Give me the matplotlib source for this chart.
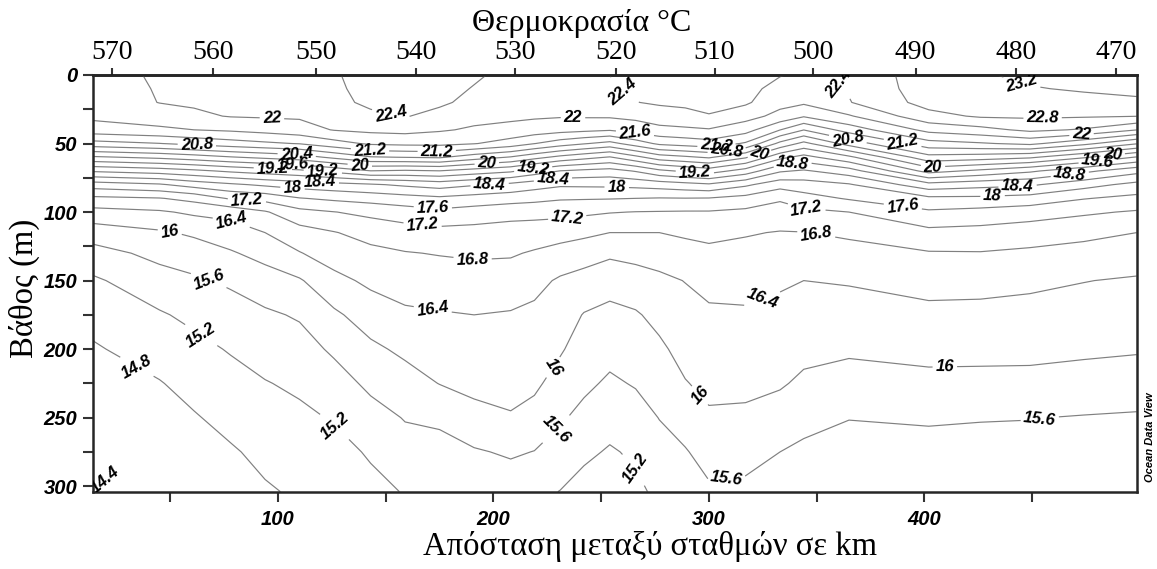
import matplotlib
matplotlib.use('Agg')
import matplotlib.pyplot as plt
import numpy as np

# section grid: distance along the transect (km) and depth (m)
dist_km = [14, 45, 61, 78, 94, 110, 126, 143, 159, 175, 191, 208, 219, 231, 242,
           254, 266, 277, 289, 300, 317, 333, 344, 365, 402, 426, 449, 474, 498.5]
depth_m = [0, 10, 20, 30, 40, 50, 60, 70, 80, 90, 100, 115, 130, 150, 175, 200, 225, 250, 275, 304]

t_014 = [21.85, 21.80, 21.75, 21.68, 21.43, 20.65, 19.54, 18.45, 17.40, 16.71, 16.26, 15.79, 15.45, 15.14, 14.92, 14.76, 14.65, 14.54, 14.44, 14.35]
t_045 = [22.05, 22.03, 22.01, 21.80, 21.53, 20.79, 19.69, 18.59, 17.55, 16.78, 16.35, 15.95, 15.71, 15.44, 15.16, 14.96, 14.78, 14.69, 14.59, 14.48]
t_061 = [22.10, 22.08, 22.05, 21.93, 21.60, 20.91, 19.81, 18.71, 17.77, 16.92, 16.47, 16.06, 15.81, 15.54, 15.29, 15.09, 14.92, 14.77, 14.70, 14.58]
t_078 = [22.15, 22.12, 22.08, 22.02, 21.66, 21.03, 19.97, 18.87, 17.93, 17.25, 16.53, 16.21, 15.96, 15.66, 15.43, 15.23, 15.06, 14.91, 14.76, 14.70]
t_094 = [22.22, 22.20, 22.16, 22.04, 21.74, 21.13, 20.09, 18.99, 18.07, 17.34, 16.76, 16.40, 16.13, 15.82, 15.54, 15.36, 15.18, 15.03, 14.89, 14.76]
t_110 = [22.20, 22.18, 22.14, 22.05, 21.84, 21.22, 20.21, 19.11, 18.18, 17.58, 17.08, 16.64, 16.38, 15.96, 15.64, 15.45, 15.27, 15.12, 15.00, 14.85]
t_126 = [22.35, 22.32, 22.27, 22.14, 22.02, 21.45, 20.49, 19.32, 18.26, 17.68, 17.19, 16.78, 16.58, 16.29, 15.93, 15.66, 15.44, 15.23, 15.08, 14.95]
t_143 = [22.60, 22.55, 22.50, 22.30, 22.09, 21.66, 20.77, 19.59, 18.35, 17.76, 17.30, 16.94, 16.70, 16.48, 16.19, 15.92, 15.68, 15.46, 15.24, 15.10]
t_159 = [22.60, 22.56, 22.50, 22.42, 22.12, 21.70, 20.81, 19.54, 18.47, 17.84, 17.41, 17.02, 16.78, 16.58, 16.33, 16.08, 15.84, 15.62, 15.46, 15.22]
t_175 = [22.55, 22.52, 22.46, 22.29, 22.04, 21.71, 20.85, 19.59, 18.58, 17.92, 17.50, 17.07, 16.82, 16.61, 16.37, 16.19, 16.01, 15.68, 15.45, 15.28]
t_191 = [22.45, 22.38, 22.30, 22.12, 21.95, 21.62, 20.59, 19.43, 18.44, 17.84, 17.42, 17.06, 16.85, 16.64, 16.40, 16.25, 16.10, 15.88, 15.56, 15.35]
t_208 = [22.30, 22.28, 22.24, 22.08, 21.88, 21.43, 20.37, 19.27, 18.30, 17.77, 17.33, 17.04, 16.84, 16.61, 16.37, 16.24, 16.12, 15.97, 15.65, 15.37]
t_219 = [22.30, 22.28, 22.23, 22.05, 21.82, 21.21, 20.13, 19.03, 18.17, 17.71, 17.33, 17.00, 16.76, 16.51, 16.32, 16.19, 16.07, 15.87, 15.59, 15.30]
t_231 = [22.30, 22.28, 22.22, 22.03, 21.75, 20.99, 19.89, 18.79, 18.06, 17.64, 17.31, 16.96, 16.65, 16.35, 16.19, 16.04, 15.85, 15.65, 15.44, 15.19]
t_242 = [22.35, 22.32, 22.26, 22.04, 21.70, 20.83, 19.73, 18.71, 18.07, 17.63, 17.27, 16.89, 16.57, 16.26, 15.98, 15.83, 15.68, 15.49, 15.28, 15.05]
t_254 = [22.40, 22.38, 22.30, 22.05, 21.64, 20.67, 19.57, 18.65, 18.08, 17.62, 17.22, 16.80, 16.47, 16.15, 15.90, 15.72, 15.54, 15.35, 15.16, 15.05]
t_266 = [22.50, 22.45, 22.39, 22.10, 21.78, 20.99, 19.89, 18.83, 18.12, 17.60, 17.19, 16.80, 16.52, 16.23, 15.96, 15.79, 15.63, 15.44, 15.26, 15.12]
t_277 = [22.60, 22.55, 22.45, 22.22, 21.89, 21.28, 20.21, 19.11, 18.18, 17.58, 17.18, 16.80, 16.56, 16.32, 16.11, 15.93, 15.77, 15.61, 15.46, 15.28]
t_289 = [22.60, 22.56, 22.48, 22.28, 21.93, 21.37, 20.33, 19.27, 18.26, 17.59, 17.17, 16.86, 16.65, 16.41, 16.27, 16.13, 15.98, 15.78, 15.57, 15.40]
t_300 = [22.60, 22.57, 22.50, 22.38, 21.97, 21.45, 20.45, 19.39, 18.34, 17.58, 17.17, 16.90, 16.71, 16.51, 16.34, 16.21, 16.09, 15.95, 15.75, 15.54]
t_317 = [22.55, 22.52, 22.46, 22.15, 21.76, 21.15, 20.05, 19.03, 18.07, 17.47, 17.11, 16.83, 16.69, 16.53, 16.35, 16.22, 16.09, 15.93, 15.72, 15.52]
t_333 = [22.42, 22.27, 22.12, 21.88, 21.21, 20.29, 19.31, 18.45, 17.76, 17.25, 17.04, 16.78, 16.64, 16.45, 16.30, 16.17, 16.04, 15.83, 15.60, 15.45]
t_344 = [22.32, 22.20, 22.06, 21.64, 20.81, 19.89, 19.06, 18.35, 17.82, 17.44, 17.11, 16.79, 16.62, 16.40, 16.25, 16.10, 15.93, 15.71, 15.53, 15.37]
t_365 = [22.45, 22.43, 22.38, 21.96, 21.38, 20.56, 19.51, 18.62, 17.96, 17.64, 17.20, 16.87, 16.66, 16.43, 16.24, 16.06, 15.84, 15.61, 15.47, 15.31]
t_402 = [23.05, 23.02, 22.95, 22.67, 22.12, 21.45, 20.66, 19.75, 18.66, 17.91, 17.54, 17.09, 16.77, 16.54, 16.30, 16.11, 15.90, 15.64, 15.48, 15.32]
t_426 = [23.15, 23.08, 22.98, 22.85, 22.27, 21.56, 20.59, 19.51, 18.54, 17.91, 17.47, 17.06, 16.78, 16.53, 16.29, 16.11, 15.89, 15.62, 15.47, 15.31]
t_449 = [23.30, 23.17, 23.01, 22.86, 22.49, 21.69, 20.46, 19.27, 18.46, 17.84, 17.38, 16.99, 16.73, 16.48, 16.27, 16.10, 15.89, 15.61, 15.47, 15.31]
t_474 = [23.35, 23.25, 23.05, 22.84, 22.36, 21.31, 20.05, 18.90, 18.15, 17.62, 17.26, 16.90, 16.67, 16.41, 16.24, 16.07, 15.84, 15.58, 15.45, 15.29]
t_498 = [23.35, 23.28, 23.14, 22.81, 22.01, 20.83, 19.57, 18.53, 17.88, 17.49, 17.16, 16.80, 16.60, 16.36, 16.20, 16.04, 15.79, 15.56, 15.42, 15.27]

# stations along the top axis
station_km = [23.2, 69.8, 117.5, 164.2, 210.2, 257.0, 302.6, 348.3, 395.9, 442.6, 489.0]
station_id = ['570', '560', '550', '540', '530', '520', '510', '500', '490', '480', '470']

# where the isotherm labels sit (km, m)
label_pos = [
    (97.1, 35.0), (151.9, 31.3), (261.0, 9.5), (359.3, 7.3), (445.6, 3.6),
    (454.9, 34.2), (236.9, 34.2), (265.7, 42.3), (473.0, 45.2), (62.4, 48.8),
    (142.6, 56.8), (173.7, 54.6), (108.7, 58.3), (106.8, 65.6), (97.6, 69.2),
    (120.8, 70.7), (137.9, 67.0), (119.4, 78.7), (106.8, 81.6), (171.8, 98.4),
    (167.2, 107.8), (85.5, 93.3), (79.0, 104.2), (49.8, 114.4), (68.3, 147.9),
    (65.1, 188.0), (35.9, 209.1), (21.1, 292.9), (127.3, 255.0), (196.9, 64.1),
    (218.3, 67.0), (227.5, 74.3), (198.3, 82.3), (257.2, 82.3), (234.2, 103.5),
    (303.6, 53.2), (308.3, 56.1), (323.6, 58.3), (293.4, 72.9), (338.9, 65.6),
    (345.4, 94.7), (364.4, 47.3), (389.9, 49.5), (403.9, 65.6), (467.5, 72.9),
    (480.5, 64.1), (487.4, 58.3), (443.3, 83.8), (431.7, 91.1), (389.9, 96.9),
    (350.0, 114.4), (190.4, 133.3), (171.8, 171.2), (324.5, 162.5), (229.3, 214.9),
    (292.5, 238.3), (409.5, 214.9), (229.3, 258.7), (308.3, 298.7), (453.6, 251.4),
    (267.0, 285.6),
]

cols = [t_014, t_045, t_061, t_078, t_094, t_110, t_126, t_143, t_159, t_175,
        t_191, t_208, t_219, t_231, t_242, t_254, t_266, t_277, t_289, t_300,
        t_317, t_333, t_344, t_365, t_402, t_426, t_449, t_474, t_498]
temp = np.array(cols).T
levels = np.round(np.arange(14.4, 23.3, 0.4), 1)

fig = plt.figure(figsize=(11.57, 5.69), dpi=100)
ax = fig.add_axes([0.0801, 0.1359, 0.9023, 0.7323])

cs = ax.contour(dist_km, depth_m, temp, levels=levels, colors='0.5', linewidths=0.85)
with plt.rc_context({'font.family': 'Liberation Sans', 'font.weight': 'bold',
                     'font.style': 'italic'}):
    ax.clabel(cs, levels, manual=label_pos, inline=True, inline_spacing=3,
              fontsize=12, colors='k', fmt=lambda v: f'{v:g}')

ax.set_xlim(14, 498.5)
ax.set_ylim(304, 0)
ax.set_xticks([100, 200, 300, 400])
ax.set_xticks([50, 150, 250, 350, 450], minor=True)
ax.set_yticks(range(0, 301, 50))
ax.set_yticks(range(25, 300, 50), minor=True)
ax.tick_params(which='both', direction='out', length=7, width=1.5, color='0.2')
ax.tick_params(axis='x', pad=6)
ax.tick_params(axis='y', pad=4)
for lab in ax.get_xticklabels() + ax.get_yticklabels():
    lab.set_family('Liberation Sans')
    lab.set_weight('bold')
    lab.set_style('italic')
    lab.set_size(14.5)
for sp in ax.spines.values():
    sp.set_linewidth(1.8)
    sp.set_color('0.15')

top = ax.secondary_xaxis('top')
top.set_xticks(station_km, labels=station_id)
top.tick_params(direction='out', length=5, width=1.5, pad=2, color='0.2')
for lab in top.get_xticklabels():
    lab.set_family('Liberation Serif')
    lab.set_size(20)
top.spines['top'].set_linewidth(1.8)

fig.text(582 / 1157, 1 - 23 / 569, 'Θερμοκρασία °C', ha='center', va='center',
         family='Liberation Serif', size=23)
fig.text(650 / 1157, 1 - 547 / 569, 'Απόσταση μεταξύ σταθμών σε km', ha='center',
         va='center', family='Liberation Serif', size=23.5)
fig.text(24 / 1157, 1 - 288 / 569, 'Βάθος (m)', rotation=90, ha='center',
         va='center', family='Liberation Serif', size=23.5)
fig.text(1150 / 1157, 1 - 437 / 569, 'Ocean Data View', rotation=90, ha='center',
         va='center', family='Liberation Sans', weight='bold', style='italic', size=8)

fig.savefig('out.png', dpi=100)
